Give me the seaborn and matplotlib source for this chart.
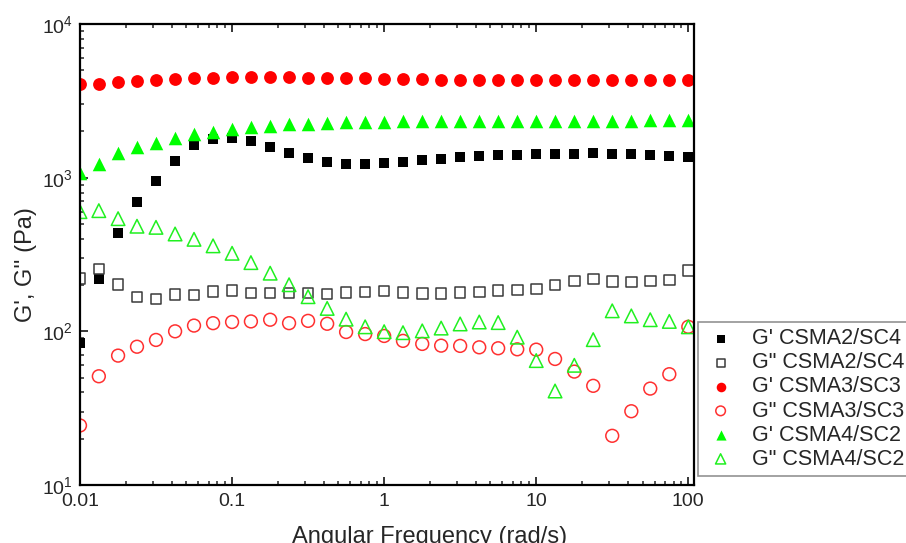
import numpy as np
import pandas as pd
import seaborn as sns
import matplotlib.pyplot as plt
from matplotlib.ticker import LogLocator, NullFormatter

# angular frequency (rad/s), 8 points per decade
freq = [0.01, 0.0133, 0.0178, 0.0237, 0.0316, 0.0422, 0.0562, 0.075,
        0.1, 0.133, 0.178, 0.237, 0.316, 0.422, 0.562, 0.75,
        1.0, 1.33, 1.78, 2.37, 3.16, 4.22, 5.62, 7.5,
        10.0, 13.3, 17.8, 23.7, 31.6, 42.2, 56.2, 75.0, 100.0]

g1_csma2 = [84, 220, 435, 695, 952, 1284, 1625, 1778,
            1805, 1725, 1592, 1455, 1343, 1259, 1228, 1228,
            1239, 1271, 1297, 1330, 1370, 1390, 1405, 1412,
            1420, 1425, 1430, 1442, 1430, 1420, 1400, 1385, 1358]
g2_csma2 = [220, 255, 201, 167, 162, 173, 172, 182,
            185, 178, 178, 178, 178, 175, 179, 180,
            183, 179, 177, 177, 179, 180, 184, 186,
            188, 200, 212, 219, 211, 210, 213, 216, 248]
g1_csma3 = [4050, 4100, 4180, 4270, 4330, 4400, 4440, 4470,
            4490, 4500, 4510, 4500, 4470, 4450, 4430, 4420,
            4400, 4380, 4370, 4350, 4340, 4330, 4320, 4320,
            4310, 4310, 4300, 4300, 4300, 4300, 4300, 4300, 4300]
g2_csma3 = [24.4, 51, 69.5, 79.4, 87.9, 100, 109, 113,
            115, 116, 119, 113, 117, 112, 99, 96,
            93.3, 86.7, 82.8, 80.7, 80.4, 78.7, 77.6, 76.4,
            76.0, 66.1, 54.7, 44.2, 20.9, 30.2, 42.4, 52.6, 107]
g1_csma4 = [1080, 1222, 1442, 1585, 1675, 1820, 1925, 1995,
            2065, 2150, 2170, 2225, 2245, 2270, 2290, 2305,
            2320, 2330, 2330, 2335, 2335, 2340, 2340, 2340,
            2345, 2345, 2350, 2350, 2355, 2355, 2360, 2360, 2360]
g2_csma4 = [601, 610, 541, 483, 475, 430, 397, 360,
            322, 280, 239, 201, 168, 141, 120, 107,
            99.5, 98, 100.7, 105, 111.7, 115, 114, 91.6,
            64.5, 40.9, 60.1, 88.3, 136, 126, 119, 116, 107]

labels = ["G' CSMA2/SC4", 'G" CSMA2/SC4', "G' CSMA3/SC3",
          'G" CSMA3/SC3', "G' CSMA4/SC2", 'G" CSMA4/SC2']
values = [g1_csma2, g2_csma2, g1_csma3, g2_csma3, g1_csma4, g2_csma4]
markers = ['s', 's', 'o', 'o', '^', '^']
colors = ['black', '#3a3a3a', 'red', '#ff3030', 'lime', '#20f020']
filled = [True, False, True, False, True, False]
sizes = [58, 58, 85, 85, 95, 95]

sns.set_style('ticks', {'xtick.direction': 'in', 'ytick.direction': 'in'})
plt.rcParams['font.family'] = ['Liberation Sans', 'DejaVu Sans']

fig = plt.figure(figsize=(9.06, 5.43), dpi=100)
ax = fig.add_axes([80 / 906, 1 - 485 / 543, 614 / 906, 461 / 543])

for lab, val, mk, col, fill, sz in zip(labels, values, markers, colors, filled, sizes):
    df = pd.DataFrame({'freq': freq, 'G': val})
    if fill:
        sns.scatterplot(data=df, x='freq', y='G', ax=ax, marker=mk, s=sz,
                        color=col, edgecolor=col, linewidth=0, label=lab)
    else:
        sns.scatterplot(data=df, x='freq', y='G', ax=ax, marker=mk, s=sz,
                        facecolor='none', edgecolor=col, linewidth=1.1, label=lab)

ax.set_xscale('log')
ax.set_yscale('log')
ax.set_xlim(0.01, 109)
ax.set_ylim(10, 10000)
ax.set_xticks([0.01, 0.1, 1, 10, 100])
ax.set_xticklabels(['0.01', '0.1', '1', '10', '100'])
ax.xaxis.set_minor_locator(LogLocator(base=10, subs=np.arange(2, 10), numticks=20))
ax.yaxis.set_minor_locator(LogLocator(base=10, subs=np.arange(2, 10), numticks=20))
ax.xaxis.set_minor_formatter(NullFormatter())
ax.yaxis.set_minor_formatter(NullFormatter())

for sp in ax.spines.values():
    sp.set_linewidth(1.6)
    sp.set_color('black')
ax.tick_params(which='major', length=6, width=1.3, labelsize=14, top=True, right=False, pad=5)
ax.tick_params(axis='x', which='major', pad=6)
ax.tick_params(which='minor', length=3, width=1.1, top=True, right=False)

ax.set_xlabel('Angular Frequency (rad/s)', fontsize=17)
ax.set_ylabel("G', G'' (Pa)", fontsize=17)
ax.xaxis.set_label_coords((430 - 80) / 614, -0.088)
ax.yaxis.set_label_coords(-0.07, (485 - 265) / 461)

leg = ax.legend(loc='upper left', bbox_to_anchor=(698 / 906, 1 - 322 / 543),
                bbox_transform=fig.transFigure, fontsize=15.5, frameon=True,
                fancybox=False, edgecolor='#777777', labelspacing=0.14,
                handlelength=1.5, handletextpad=0.7, borderpad=0.3,
                borderaxespad=0, markerscale=0.75)
leg.get_frame().set_linewidth(1.2)

plt.savefig('out.png', dpi=100)
plt.close()
